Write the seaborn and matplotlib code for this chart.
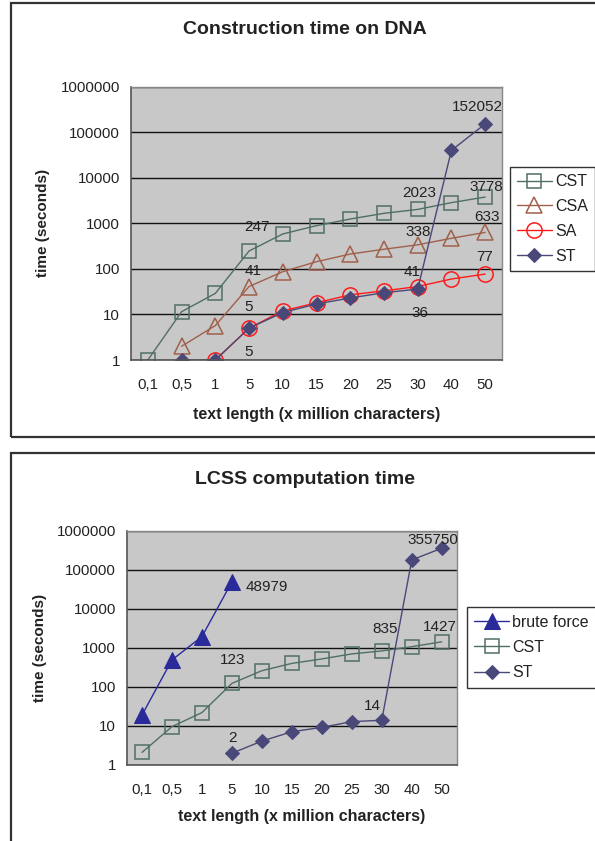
import numpy as np
import pandas as pd
import matplotlib
matplotlib.use("Agg")
import matplotlib.pyplot as plt
import seaborn as sns
from matplotlib.patches import Rectangle

# --- dados ---
x_labels = ["0,1", "0,5", "1", "5", "10", "15", "20", "25", "30", "40", "50"]

# construção (DNA)
cst_build = [1, 11.5, 29, 247, 585, 890, 1245, 1660, 2023, 2850, 3778]
csa_build = [np.nan, 2, 5.7, 41, 87, 144, 212, 270, 338, 470, 633]
sa_build = [np.nan, np.nan, 1, 5, 12, 18, 27, 33, 41, 60, 77]
st_build = [np.nan, 1, 1, 5, 11, 17, 23, 30, 36, 40000, 152052]

# LCSS
brute_lcss = [19, 490, 1940, 48979, np.nan, np.nan, np.nan, np.nan, np.nan, np.nan, np.nan]
cst_lcss = [2.1, 9.6, 22, 123, 260, 400, 520, 700, 835, 1070, 1427]
st_lcss = [np.nan, np.nan, np.nan, 2, 4.1, 7.1, 9.2, 12.9, 14, 178000, 355750]

# --- estilo ---
sns.set_style("white")
plt.rcParams['font.family'] = ['Liberation Sans', 'DejaVu Sans']

C_CST = "#4f6f62"
C_CSA = "#a0604a"
C_SA = "#ff1a1a"
C_ST = "#4a4878"
C_BF = "#2a2a9a"
BG = "#c8c8c8"
TXT = "#222222"

W, H = 595, 841
fig = plt.figure(figsize=(W / 100, H / 100), dpi=100)


def px_rect(x0, y0, x1, y1):
    # converte pixels (origem no topo) para fração da figura
    return [x0 / W, 1 - y1 / H, (x1 - x0) / W, (y1 - y0) / H]


# molduras dos dois painéis
for (y0, y1) in [(3, 437), (453, 900)]:
    fig.patches.append(Rectangle((11 / W, 1 - y1 / H), 700 / W, (y1 - y0) / H,
                                 transform=fig.transFigure, fill=False,
                                 edgecolor="#333333", linewidth=1.6, clip_on=False))

idx = np.arange(len(x_labels))


def style_axes(ax):
    ax.set_facecolor(BG)
    ax.set_yscale("log")
    ax.set_ylim(1, 1e6)
    ax.set_xlim(-0.5, len(x_labels) - 0.5)
    ax.set_yticks([10 ** k for k in range(7)])
    ax.set_yticklabels([str(10 ** k) for k in range(7)])
    ax.yaxis.set_minor_locator(matplotlib.ticker.NullLocator())
    ax.set_xticks(idx)
    ax.set_xticklabels(x_labels)
    ax.set_xticks(np.arange(-0.5, len(x_labels)), minor=True)
    ax.tick_params(axis="x", which="major", length=0, pad=13, labelsize=10.8, colors=TXT)
    ax.tick_params(axis="x", which="minor", length=5, width=1, direction="out", colors="#555555")
    ax.tick_params(axis="y", which="major", length=5, width=1, direction="out", pad=3,
                   labelsize=10.8, colors="#555555", labelcolor=TXT)
    ax.grid(axis="y", which="major", color="#111111", linewidth=1)
    for s in ["top", "right"]:
        ax.spines[s].set_color("#888888")
        ax.spines[s].set_linewidth(1)
    for s in ["left", "bottom"]:
        ax.spines[s].set_color("#555555")
        ax.spines[s].set_linewidth(1.2)
    ax.set_xlabel("")
    ax.set_ylabel("")


def label(ax, i, val, text, dx, dy):
    ax.annotate(text, (i, val), xytext=(dx, -dy), textcoords="offset pixels",
                ha="center", va="center", fontsize=11, color=TXT)


def legend(ax, cx, cy, **kw):
    h, l = ax.get_legend_handles_labels()
    lg = ax.legend(h, l, loc="center", bbox_to_anchor=(cx / W, 1 - cy / H),
                   bbox_transform=fig.transFigure, frameon=True, fancybox=False,
                   edgecolor="black", fontsize=11.5, handlelength=2.2,
                   handletextpad=0.2, borderaxespad=0, **kw)
    lg.get_frame().set_linewidth(1)
    for t in lg.get_texts():
        t.set_color(TXT)


# ---------------- gráfico 1 ----------------
ax1 = fig.add_axes(px_rect(131, 86.7, 502, 360))
style_axes(ax1)
sns.lineplot(x=idx, y=cst_build, ax=ax1, color=C_CST, lw=1, marker="s", ms=10,
             mfc="none", mec=C_CST, mew=1.1, label="CST")
sns.lineplot(x=idx, y=csa_build, ax=ax1, color=C_CSA, lw=1, marker="^", ms=11,
             mfc="none", mec=C_CSA, mew=1.1, label="CSA")
sns.lineplot(x=idx, y=sa_build, ax=ax1, color=C_SA, lw=1, marker="o", ms=11,
             mfc="none", mec=C_SA, mew=1.1, label="SA")
sns.lineplot(x=idx, y=st_build, ax=ax1, color=C_ST, lw=1, marker="D", ms=7,
             mfc=C_ST, mec=C_ST, label="ST")
style_axes(ax1)

label(ax1, 3, 247, "247", 8, -24)
label(ax1, 3, 41, "41", 4, -16)
label(ax1, 3, 5, "5", 0, -21)
label(ax1, 3, 5, "5", 0, 24)
label(ax1, 8, 2023, "2023", 2, -16)
label(ax1, 10, 3778, "3778", 1, -10)
label(ax1, 8, 338, "338", 1, -13)
label(ax1, 10, 633, "633", 2, -15)
label(ax1, 8, 41, "41", -6, -15)
label(ax1, 10, 77, "77", -1, -17)
label(ax1, 8, 36, "36", 2, 24)
label(ax1, 10, 152052, "152052", -8, -17)

legend(ax1, (511.7 + 593) / 2, 219, borderpad=0.45, labelspacing=0.62)

fig.text(305 / W, 1 - 30 / H, "Construction time on DNA", ha="center", va="center",
         fontsize=14, fontweight="bold", color=TXT)
fig.text(43 / W, 1 - 223 / H, "time (seconds)", ha="center", va="center",
         rotation=90, fontsize=11, fontweight="bold", color=TXT)
fig.text(316.5 / W, 1 - 415 / H, "text length (x million characters)", ha="center",
         va="center", fontsize=11.5, fontweight="bold", color=TXT)

# ---------------- gráfico 2 ----------------
ax2 = fig.add_axes(px_rect(127, 530.7, 456.7, 765))
style_axes(ax2)
sns.lineplot(x=idx, y=brute_lcss, ax=ax2, color=C_BF, lw=1, marker="^", ms=11,
             mfc=C_BF, mec=C_BF, label="brute force")
sns.lineplot(x=idx, y=cst_lcss, ax=ax2, color=C_CST, lw=1, marker="s", ms=10,
             mfc="none", mec=C_CST, mew=1.1, label="CST")
sns.lineplot(x=idx, y=st_lcss, ax=ax2, color=C_ST, lw=1, marker="D", ms=7,
             mfc=C_ST, mec=C_ST, label="ST")
style_axes(ax2)

label(ax2, 3, 48979, "48979", 35, 5)
label(ax2, 3, 123, "123", 1, -23)
label(ax2, 3, 2, "2", 1, -15)
label(ax2, 8, 835, "835", 3, -22)
label(ax2, 10, 1427, "1427", -2, -15)
label(ax2, 8, 14, "14", -9, -14)
label(ax2, 10, 355750, "355750", -9, -8)

legend(ax2, (470 + 593) / 2, 647.5, borderpad=0.45, labelspacing=0.65)

fig.text(305 / W, 1 - 479 / H, "LCSS computation time", ha="center", va="center",
         fontsize=14, fontweight="bold", color=TXT)
fig.text(40 / W, 1 - 648 / H, "time (seconds)", ha="center", va="center",
         rotation=90, fontsize=11, fontweight="bold", color=TXT)
fig.text(302 / W, 1 - 817 / H, "text length (x million characters)", ha="center",
         va="center", fontsize=11.5, fontweight="bold", color=TXT)

fig.savefig("out.png", dpi=100)
